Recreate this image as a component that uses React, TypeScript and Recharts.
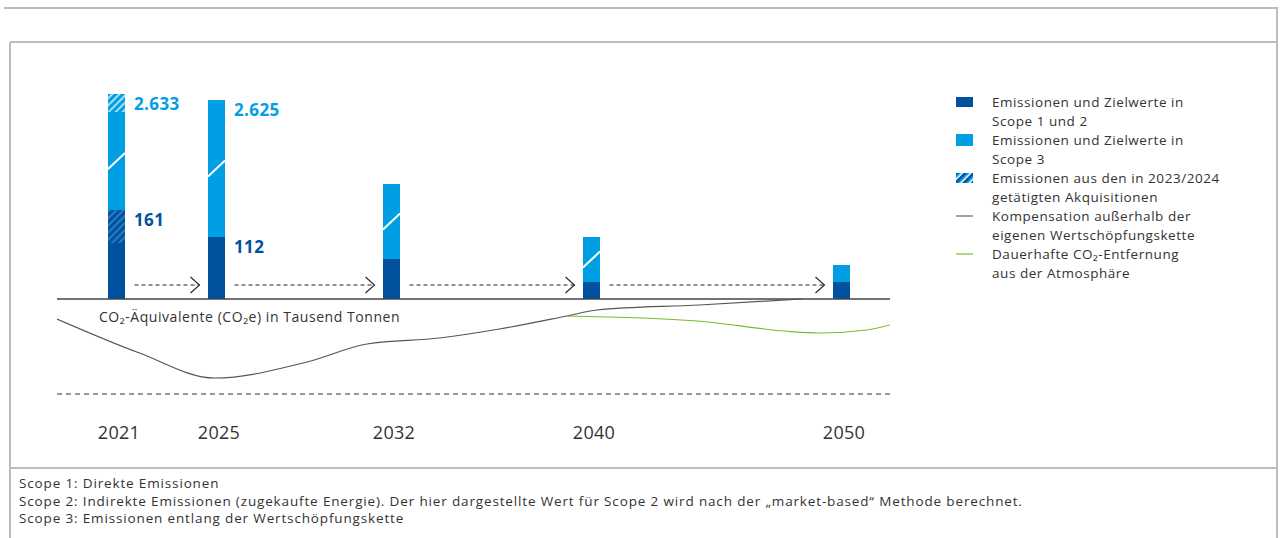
import React from "react";
import { Bar, ComposedChart, LabelList, Line, ReferenceLine, XAxis, YAxis } from "recharts";

// schematic bar heights (the original uses broken bars, so these are drawing units)
const years = [2021, 2025, 2032, 2040, 2050];
const scope12 = [56, 62, 40, 17, 17];
const scope12Acq = [33, 0, 0, 0, 0];
const scope3 = [98, 137, 75, 45, 17];
const scope3Acq = [18, 0, 0, 0, 0];
const darkLabels = ["161", "112", "", "", ""];
const lightLabels = ["2.633", "2.625", "", "", ""];
const broken = [true, true, true, true, false];

// compensation outside the value chain (grey curve)
const compYears = [2018.6, 2021.9, 2024.9, 2028.6, 2031.0, 2033.9, 2036.3, 2039.0, 2040.2, 2044.3, 2048.4];
const compValues = [-20, -54, -79, -63, -45, -39, -30, -17, -11, -6, 0];

// permanent CO2 removal (green curve)
const removalYears = [2039.0, 2044.2, 2047.7, 2049.1, 2051.0, 2051.92];
const removalValues = [-17, -22, -32, -34, -31, -26];

const arrowLevel = 14;
const floorLevel = -95;

const DARK = "#00529F";
const LIGHT = "#009FE3";
const TEXT = "#333333";
const FONT = "'Open Sans', sans-serif";
const X_DOMAIN = [2018.6, 2051.92];

const barData = years.map((year, i) => ({
  year,
  s12: scope12[i],
  s12acq: scope12Acq[i],
  s3: scope3[i],
  s3acq: scope3Acq[i],
  broken: broken[i],
  darkBase: scope12Acq[i] === 0 ? darkLabels[i] : "",
  darkAcq: scope12Acq[i] > 0 ? darkLabels[i] : "",
  lightBase: scope3Acq[i] === 0 ? lightLabels[i] : "",
  lightAcq: scope3Acq[i] > 0 ? lightLabels[i] : "",
}));

const compData = compYears.map((year, i) => ({ year, value: compValues[i] }));
const removalData = removalYears.map((year, i) => ({ year, value: removalValues[i] }));

const arrowSegments = years.slice(0, -1).map((y, i) => [y, years[i + 1]]);

const Scope3Shape = (props: any) => {
  const { x, y, width, height, payload } = props;
  const mid = y + height / 2;
  return (
    <g>
      <rect x={x} y={y} width={width} height={height} fill={LIGHT} />
      {payload && payload.broken && (
        <line x1={x} y1={mid + 8} x2={x + width} y2={mid - 8} stroke="#fff" strokeWidth={2} />
      )}
    </g>
  );
};

const makeLabel = (color: string) => (props: any) => {
  const { x, y, width, value } = props;
  if (!value) return null;
  return (
    <text x={Number(x) + Number(width) + 9} y={Number(y) + 9} fill={color} fontSize={17} fontWeight={700}
      fontFamily={FONT} letterSpacing={0.4} dominantBaseline="central">
      {value}
    </text>
  );
};

const Arrow = (props: any) => {
  const { x1, y1, x2 } = props;
  const start = x1 + 17.5;
  const end = x2 - 17.5;
  return (
    <g>
      <line x1={start} y1={y1} x2={end} y2={y1} stroke="#222" strokeWidth={1} strokeDasharray="4 3" />
      <polyline points={`${end - 9},${y1 - 8} ${end},${y1} ${end - 9},${y1 + 8}`} fill="none" stroke="#222" strokeWidth={1.1} />
    </g>
  );
};

const YearTick = (props: any) => {
  const { x, y, payload } = props;
  return (
    <text x={x + 2} y={y + 25} textAnchor="middle" dominantBaseline="central" fill={TEXT} fontSize={18}
      letterSpacing={0.3} fontFamily={FONT}>
      {payload.value}
    </text>
  );
};

const legendItems = [
  { kind: "dark", lines: ["Emissionen und Zielwerte in", "Scope 1 und 2"] },
  { kind: "light", lines: ["Emissionen und Zielwerte in", "Scope 3"] },
  { kind: "hatch", lines: ["Emissionen aus den in 2023/2024", "getätigten Akquisitionen"] },
  { kind: "grey", lines: ["Kompensation außerhalb der", "eigenen Wertschöpfungskette"] },
  { kind: "green", lines: ["Dauerhafte CO₂-Entfernung", "aus der Atmosphäre"] },
];

const footnotes = [
  "Scope 1: Direkte Emissionen",
  "Scope 2: Indirekte Emissionen (zugekaufte Energie). Der hier dargestellte Wert für Scope 2 wird nach der „market-based“ Methode berechnet.",
  "Scope 3: Emissionen entlang der Wertschöpfungskette",
];

const LegendIcon = ({ kind }: { kind: string }) => (
  <svg width={17} height={12} style={{ display: "block" }}>
    <defs>
      <pattern id="legHatch" patternUnits="userSpaceOnUse" width={6} height={6} patternTransform="rotate(45)">
        <rect width={6} height={6} fill={LIGHT} />
        <rect width={2.5} height={6} fill={DARK} />
        <rect x={4.5} width={1.5} height={6} fill="#ffffff" />
      </pattern>
    </defs>
    {kind === "dark" && <rect x={0} y={1} width={17} height={10} fill={DARK} />}
    {kind === "light" && <rect x={0} y={0} width={17} height={12} fill={LIGHT} />}
    {kind === "hatch" && <rect x={0} y={1} width={17} height={10} fill="url(#legHatch)" />}
    {kind === "grey" && <line x1={0} y1={6} x2={17} y2={6} stroke="#666" strokeWidth={1.2} />}
    {kind === "green" && <line x1={0} y1={6} x2={17} y2={6} stroke="#7DB92E" strokeWidth={1.2} />}
  </svg>
);

export default function App() {
  return (
    <div style={{ position: "absolute", left: 0, top: 0, width: 1281, height: 538, background: "#fff", fontFamily: FONT, color: TEXT }}>
      <svg width={1281} height={538} style={{ position: "absolute", left: 0, top: 0 }}>
        <g stroke="#bdbdbd" strokeWidth={2} fill="none">
          <line x1={4} y1={8} x2={1278} y2={8} />
          <line x1={1277} y1={8} x2={1277} y2={538} />
          <line x1={10} y1={42} x2={1278} y2={42} />
          <line x1={10} y1={42} x2={10} y2={538} />
          <line x1={10} y1={468} x2={1278} y2={468} />
        </g>
      </svg>

      <div style={{ position: "absolute", left: 0, top: 0 }}>
        <ComposedChart width={960} height={460} data={barData} barSize={17} margin={{ top: 89, right: 70, left: 57, bottom: 21 }}>
          <defs>
            <pattern id="darkHatch" patternUnits="userSpaceOnUse" width={5} height={5} patternTransform="rotate(45)">
              <rect width={5} height={5} fill={DARK} />
              <rect width={2} height={5} fill="#2C7CC4" />
            </pattern>
            <pattern id="lightHatch" patternUnits="userSpaceOnUse" width={5} height={5} patternTransform="rotate(45)">
              <rect width={5} height={5} fill={LIGHT} />
              <rect width={2} height={5} fill="#A9DCF6" />
            </pattern>
          </defs>
          <XAxis xAxisId="bars" type="number" dataKey="year" domain={X_DOMAIN} allowDataOverflow ticks={years}
            axisLine={false} tickLine={false} height={40} tick={YearTick} interval={0} />
          <XAxis xAxisId="curves" type="number" dataKey="year" domain={X_DOMAIN} allowDataOverflow hide />
          <YAxis type="number" hide domain={[-100, 210]} allowDataOverflow />
          <ReferenceLine xAxisId="bars" y={floorLevel} stroke={TEXT} strokeWidth={1} strokeDasharray="5 4" />
          <ReferenceLine xAxisId="bars" y={0} stroke="#444" strokeWidth={1.5} />
          {arrowSegments.map(([a, b]) => (
            <ReferenceLine key={a} xAxisId="bars" segment={[{ x: a, y: arrowLevel }, { x: b, y: arrowLevel }]} shape={Arrow} />
          ))}
          <Bar xAxisId="bars" dataKey="s12" stackId="a" fill={DARK} barSize={17} isAnimationActive={false}>
            <LabelList dataKey="darkBase" content={makeLabel(DARK)} />
          </Bar>
          <Bar xAxisId="bars" dataKey="s12acq" stackId="a" fill="url(#darkHatch)" barSize={17} isAnimationActive={false}>
            <LabelList dataKey="darkAcq" content={makeLabel(DARK)} />
          </Bar>
          <Bar xAxisId="bars" dataKey="s3" stackId="a" fill={LIGHT} barSize={17} shape={Scope3Shape} isAnimationActive={false}>
            <LabelList dataKey="lightBase" content={makeLabel(LIGHT)} />
          </Bar>
          <Bar xAxisId="bars" dataKey="s3acq" stackId="a" fill="url(#lightHatch)" barSize={17} isAnimationActive={false}>
            <LabelList dataKey="lightAcq" content={makeLabel(LIGHT)} />
          </Bar>
          <Line xAxisId="curves" data={compData} dataKey="value" type="monotone" stroke="#555" strokeWidth={1.2} dot={false}
            activeDot={false} isAnimationActive={false} />
          <Line xAxisId="curves" data={removalData} dataKey="value" type="monotone" stroke="#7DB92E" strokeWidth={1.2} dot={false}
            activeDot={false} isAnimationActive={false} />
        </ComposedChart>
      </div>

      <div style={{ position: "absolute", left: 99, top: 307, fontSize: 14, lineHeight: "20px", letterSpacing: 0.55, whiteSpace: "nowrap" }}>
        CO₂-Äquivalente (CO₂e) in Tausend Tonnen
      </div>

      <div style={{ position: "absolute", left: 956, top: 93, fontSize: 13.5, lineHeight: "19px", letterSpacing: 0.55 }}>
        {legendItems.map((item) => (
          <div key={item.kind} style={{ position: "relative", paddingLeft: 36, whiteSpace: "nowrap" }}>
            <div style={{ position: "absolute", left: 0, top: 3 }}>
              <LegendIcon kind={item.kind} />
            </div>
            {item.lines.map((l) => (
              <div key={l}>{l}</div>
            ))}
          </div>
        ))}
      </div>

      <div style={{ position: "absolute", left: 19, top: 475, fontSize: 13.5, lineHeight: "17.5px", letterSpacing: 0.85, whiteSpace: "nowrap" }}>
        {footnotes.map((f) => (
          <div key={f}>{f}</div>
        ))}
      </div>
    </div>
  );
}
